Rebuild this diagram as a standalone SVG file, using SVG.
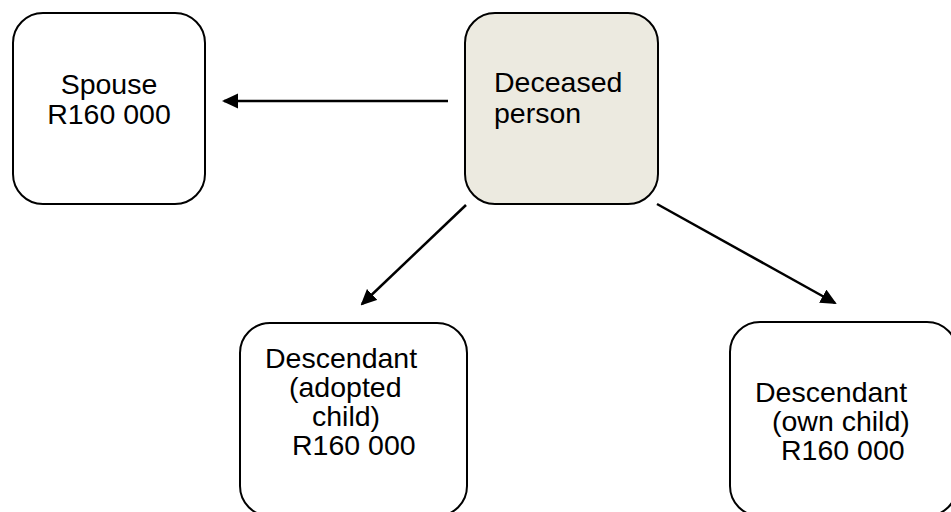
<svg xmlns="http://www.w3.org/2000/svg" width="951" height="512" viewBox="0 0 951 512">
  <style>
    .box { fill: #ffffff; stroke: #000000; stroke-width: 2; }
    .box.main { fill: #ECEAE0; }
    .label { font-family: "Liberation Sans", Arial, sans-serif; font-size: 28.5px; fill: #000000; }
    .mid { text-anchor: middle; }
    .link { stroke: #000000; stroke-width: 2.5; fill: none; marker-end: url(#head); }
  </style>
  <defs>
    <marker id="head" markerUnits="userSpaceOnUse" markerWidth="16" markerHeight="16" refX="14" refY="7.5" orient="auto">
      <path d="M0,0 L16,7.5 L0,15 z" fill="#000000"/>
    </marker>
  </defs>

  <g id="spouse">
    <rect class="box" x="13" y="13" width="192" height="191" rx="30" ry="30"/>
    <text class="label mid" x="109" y="94">Spouse</text>
    <text class="label mid" x="109" y="124">R160 000</text>
  </g>

  <g id="deceased">
    <rect class="box main" x="465" y="13" width="193" height="191" rx="30" ry="30"/>
    <text class="label" x="494" y="92">Deceased</text>
    <text class="label" x="494" y="123">person</text>
  </g>

  <g id="adopted-child">
    <rect class="box" x="240" y="323" width="227" height="193" rx="30" ry="30"/>
    <text class="label" x="265" y="368">Descendant</text>
    <text class="label" x="289" y="397">(adopted</text>
    <text class="label" x="312" y="426">child)</text>
    <text class="label" x="292" y="455">R160 000</text>
  </g>

  <g id="own-child">
    <rect class="box" x="730" y="322" width="227" height="194" rx="30" ry="30"/>
    <text class="label" x="755" y="402">Descendant</text>
    <text class="label" x="772" y="431">(own child)</text>
    <text class="label" x="781" y="460">R160 000</text>
  </g>

  <g id="connectors">
    <line class="link" x1="448" y1="101" x2="224" y2="101"/>
    <line class="link" x1="466" y1="205" x2="362" y2="304"/>
    <line class="link" x1="657" y1="204" x2="835" y2="303"/>
  </g>
</svg>
